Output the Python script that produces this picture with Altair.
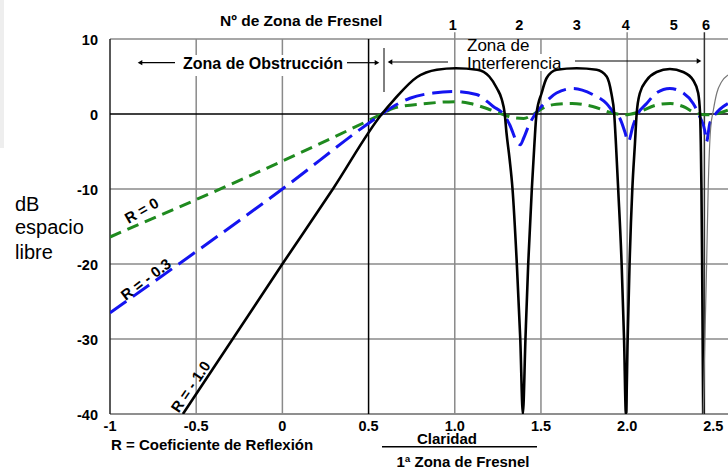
import altair as alt
import pandas as pd

FONT = "Liberation Sans"

# ---- data ----
# R = 0 (green, short dashes)
r0_x = [-1.0, 0.577, 0.643, 0.836, 1.01, 1.09, 1.19, 1.285, 1.34, 1.40, 1.45, 1.53, 1.59, 1.68, 1.80, 1.92,
        1.99, 2.06, 2.17, 2.25, 2.325, 2.40, 2.46, 2.509, 2.584]
r0_y = [-16.4, 0.0, 0.75, 1.4, 1.65, 1.4, 0.7, -0.1, -0.5, -0.6, -0.1, 1.0, 1.3, 1.4, 1.0, 0.1,
        -0.1, 0.2, 1.2, 1.4, 1.0, 0.1, -0.1, 0.0, 0.5]

# R = -0.3 (blue, long dashes)
r03_x = [-1.0, 0.0, 0.577, 0.643, 0.74, 0.875, 0.99, 1.126, 1.223, 1.285, 1.32, 1.36, 1.38, 1.40, 1.43, 1.47,
         1.53, 1.59, 1.687, 1.80, 1.88, 1.925, 1.958, 1.987, 2.006, 2.035, 2.064, 2.113, 2.17, 2.248, 2.325,
         2.383, 2.422, 2.45, 2.46, 2.48, 2.509, 2.584]
r03_y = [-26.5, -10.0, 0.0, 1.0, 2.1, 2.8, 3.0, 2.6, 1.0, -0.1, -1.5, -3.7, -4.1, -3.2, -1.5, 0.1,
         1.65, 2.8, 3.4, 2.6, 1.4, 0.1, -0.6, -2.4, -3.7, -1.5, 0.1, 1.4, 2.8, 3.4, 2.8,
         1.4, -0.4, -2.2, -3.7, -1.2, -0.1, 1.4]

# R = -1.0 (black, solid)
r1_x = [-0.577, 0.0, 0.293, 0.577, 0.646, 0.78, 0.896, 1.006, 1.13, 1.2, 1.245, 1.272, 1.29, 1.30, 1.318,
        1.335, 1.36, 1.38, 1.395, 1.41, 1.426, 1.447, 1.462, 1.474, 1.504, 1.533, 1.591, 1.707, 1.823,
        1.881, 1.908, 1.925, 1.935, 1.948, 1.968, 1.982, 1.993, 2.003, 2.014, 2.03, 2.045, 2.055, 2.074,
        2.113, 2.171, 2.248, 2.325, 2.383, 2.412, 2.423, 2.428, 2.431, 2.435, 2.441]
r1_y = [-40, -20, -10, 0.0, 1.85, 4.9, 5.9, 6.1, 5.9, 5.0, 3.4, 2.0, 0.0, -2.5, -6,
        -10, -20, -30, -40, -30, -20, -10, -4, 0.0, 2.8, 4.8, 5.9, 6.1, 5.9,
        5.0, 2.8, 0.0, -4, -10, -20, -30, -40, -30, -20, -10, -4, 0.0, 2.8,
        4.5, 5.6, 6.0, 5.6, 4.5, 2.8, 0.0, -5, -10, -20, -40]

# R = -1.0 continuation (thin grey)
tail_x = [2.441, 2.461, 2.47, 2.484, 2.50, 2.52, 2.548, 2.585]
tail_y = [-40, -20, -10, -2, 0.5, 2.8, 4.3, 5.2]

# Fresnel zone numbers
zone_labels = ["1", "2", "3", "4", "5", "6"]
zone_x = [0.989, 1.374, 1.708, 1.992, 2.271, 2.457]

# axis ticks
x_tick_values = [-1, -0.5, 0, 0.5, 1.0, 1.5, 2.0, 2.5]
x_tick_labels = ["-1", "-0.5", "0", "0.5", "1.0", "1.5", "2.0", "2.5"]
y_tick_values = [10, 0, -10, -20, -30, -40]
y_tick_labels = ["10", "0", "-10", "-20", "-30", "-40"]

grey_vgrid = [-0.5, 0.0, 1.5]
zone_lines = [1.0, 2.0]
grey_hgrid = [10, -10, -20, -30]

# ---- layout ----
PAD_L, PAD_T = 110, 39
W, H = 618, 375

xs = alt.Scale(domain=[-1, 2.585], nice=False, zero=False)
ys = alt.Scale(domain=[-40, 10], nice=False, zero=False)
one = pd.DataFrame({"a": [0]})


def PX(v):
    return v - PAD_L


def PY(v):
    return v - PAD_T


def line(xv, yv, **kw):
    df = pd.DataFrame({"x": xv, "y": yv, "i": list(range(len(xv)))})
    return alt.Chart(df).mark_line(clip=True, interpolate="monotone", **kw).encode(
        x=alt.X("x:Q", scale=xs, axis=None),
        y=alt.Y("y:Q", scale=ys, axis=None),
        order="i:Q",
    )


def vrule(xv, y1, y2, color, width=1.5):
    df = pd.DataFrame({"x": xv, "y1": [y1] * len(xv), "y2": [y2] * len(xv)})
    return alt.Chart(df).mark_rule(color=color, strokeWidth=width).encode(
        x=alt.X("x:Q", scale=xs, axis=None),
        y=alt.Y("y1:Q", scale=ys, axis=None),
        y2="y2:Q",
    )


def hrule(yv, color, width=1.5):
    df = pd.DataFrame({"y": yv})
    return alt.Chart(df).mark_rule(color=color, strokeWidth=width).encode(
        y=alt.Y("y:Q", scale=ys, axis=None),
    )


def ptext(txt, x, y, size=15, weight="bold", align="center", baseline="alphabetic", angle=0):
    kw = dict(text=txt, font=FONT, fontSize=size, fontWeight=weight, align=align,
              baseline=baseline, color="black")
    if angle:
        kw["angle"] = angle
    return alt.Chart(one).mark_text(**kw).encode(x=alt.value(PX(x)), y=alt.value(PY(y)))


def prule(x1, x2, y1, y2, color="black", width=1.2):
    return alt.Chart(one).mark_rule(color=color, strokeWidth=width).encode(
        x=alt.value(PX(x1)), x2=alt.value(PX(x2)), y=alt.value(PY(y1)), y2=alt.value(PY(y2)))


def head(x, y, shape):
    return alt.Chart(one).mark_point(shape=shape, filled=True, color="black", size=28, opacity=1).encode(
        x=alt.value(PX(x)), y=alt.value(PY(y)))


def prect(x1, x2, y1, y2, color):
    return alt.Chart(one).mark_rect(color=color).encode(
        x=alt.value(PX(x1)), x2=alt.value(PX(x2)), y=alt.value(PY(y1)), y2=alt.value(PY(y2)))


GREY = "#8a8a8a"

layers = [
    prect(0, 4, 0, 148, "#eeeeee"),
    hrule(grey_hgrid, GREY),
    hrule([-40], "#6a6a6a"),
    vrule(grey_vgrid, -40, 10, GREY),
    vrule(zone_lines, -40, 10.9, GREY),
    vrule([2.448], -40, 10.9, "#333333"),
    vrule([0.5], -40, 10, "black"),
    vrule([-1], -40, 10, "#222222"),
    hrule([0], "black"),
    # white boxes behind the zone titles
    prect(180, 346, 55, 76, "white"),
    prect(465, 566, 54, 71, "white"),
    line(r0_x, r0_y, color="#1f8a1f", strokeWidth=3, strokeDash=[12, 7]),
    line(r03_x, r03_y, color="#1414f0", strokeWidth=3, strokeDash=[20, 8]),
    line(r1_x, r1_y, color="black", strokeWidth=2.6),
    line(tail_x, tail_y, color="#777777", strokeWidth=1.2),
]

# tick labels
xt = pd.DataFrame({"x": x_tick_values, "t": x_tick_labels})
layers.append(alt.Chart(xt).mark_text(font=FONT, fontSize=14.5, fontWeight="bold", baseline="middle",
                                      color="black").encode(
    x=alt.X("x:Q", scale=xs, axis=None), y=alt.value(PY(427)), text="t:N"))
yt = pd.DataFrame({"y": y_tick_values, "t": y_tick_labels})
layers.append(alt.Chart(yt).mark_text(font=FONT, fontSize=14.5, fontWeight="bold", baseline="middle",
                                      align="right", dy=2, color="black").encode(
    y=alt.Y("y:Q", scale=ys, axis=None), x=alt.value(PX(98)), text="t:N"))

# Fresnel zone numbers
zt = pd.DataFrame({"x": zone_x, "t": zone_labels})
layers.append(alt.Chart(zt).mark_text(font=FONT, fontSize=14.5, fontWeight="bold", baseline="alphabetic",
                                      color="black").encode(
    x=alt.X("x:Q", scale=xs, axis=None), y=alt.value(PY(30)), text="t:N"))

layers += [
    ptext("Nº de Zona de Fresnel", 220, 26, size=15.5, align="left"),
    # obstruction zone
    ptext("Zona de Obstrucción", 263, 69, size=16),
    prule(140, 175, 62.7, 62.7),
    head(140, 62.7, "triangle-left"),
    prule(347, 377, 62.7, 62.7),
    head(377, 62.7, "triangle-right"),
    prule(384, 384, 48, 92, width=1),
    # interference zone
    prule(390, 448, 62, 62),
    head(390, 62, "triangle-left"),
    ptext("Zona de", 467, 50.5, size=17, weight="normal", align="left"),
    ptext("Interferencia", 467, 68.5, size=17, weight="normal", align="left"),
    prule(575, 699, 61, 61),
    head(699, 61, "triangle-right"),
    # y title
    ptext("dB", 15, 211, size=20, weight="normal", align="left"),
    ptext("espacio", 15, 234, size=20, weight="normal", align="left"),
    ptext("libre", 15, 259, size=20, weight="normal", align="left"),
    # x titles
    ptext("R = Coeficiente de Reflexión", 111, 450, size=15, align="left"),
    ptext("Claridad", 447, 444, size=15),
    prule(382, 537, 446.7, 446.7, width=1.5),
    ptext("1ª Zona de Fresnel", 463, 467, size=15),
    # curve labels
    ptext("R = 0", 141.7, 210.7, size=15, baseline="middle", angle=330),
    ptext("R = - 0.3", 146, 279.5, size=15, baseline="middle", angle=323),
    ptext("R = - 1.0", 190.7, 386.7, size=15, baseline="middle", angle=304),
]

chart = alt.layer(*layers).properties(
    width=W,
    height=H,
    padding={"left": PAD_L, "top": PAD_T, "right": 0, "bottom": 56},
    autosize=alt.AutoSizeParams(type="none"),
    background="white",
).configure_view(strokeWidth=0)

chart.save("out.html", embed_options={"renderer": "svg", "actions": False})
